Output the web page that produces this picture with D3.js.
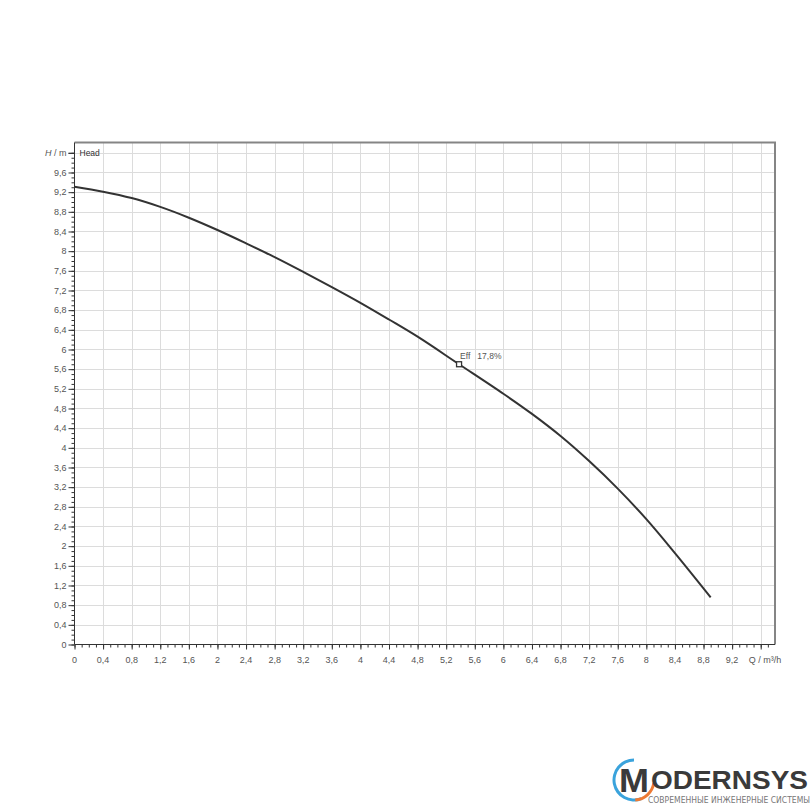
<!DOCTYPE html>
<html>
<head>
<meta charset="utf-8">
<script src="https://cdn.jsdelivr.net/npm/d3@7"></script>
<style>
  body { margin: 0; background: #fff; }
  svg { display: block; }
</style>
</head>
<body>
<div id="chart"></div>
<script>
// pump curve values
const flow = [0, 0.4, 0.8, 1.2, 1.6, 2.0, 2.4, 2.8, 3.2, 3.6, 4.0, 4.4, 4.8, 5.38, 6.0, 6.4, 6.8, 7.2, 7.6, 8.0, 8.4, 8.9];
const head = [9.31, 9.21, 9.08, 8.9, 8.68, 8.43, 8.16, 7.88, 7.58, 7.27, 6.95, 6.61, 6.26, 5.70, 5.10, 4.69, 4.24, 3.73, 3.17, 2.55, 1.86, 0.96];
const effPoint = {q: 5.38, h: 5.70, label: "Eff   17,8%"};
const xTicks = d3.range(0, 9.3, 0.4);
const yTicks = d3.range(0, 9.7, 0.4);
const xUnit = "Q / m³/h";
const seriesName = "Head";

const width = 810, height = 803;
const margin = {top: 142.5, right: 35, bottom: 158.5, left: 74.5};
const xMax = 9.8, yMax = 10.21;

const svg = d3.select("#chart").append("svg")
  .attr("width", width)
  .attr("height", height)
  .attr("font-family", "'Liberation Sans', Arial, sans-serif");

const x = d3.scaleLinear().domain([0, xMax]).range([margin.left, width - margin.right]);
const y = d3.scaleLinear().domain([0, yMax]).range([height - margin.bottom, margin.top]);

const fmt = d => d3.format(".1~f")(d).replace(".", ",");

// grid
const grid = svg.append("g").attr("stroke", "#dcdcdc").attr("stroke-width", 1);
grid.selectAll("line.v")
  .data(d3.range(0.4, 9.7, 0.4))
  .join("line")
    .attr("x1", d => Math.round(x(d)) + 0.5).attr("x2", d => Math.round(x(d)) + 0.5)
    .attr("y1", y(yMax)).attr("y2", y(0));
grid.selectAll("line.h")
  .data(d3.range(0.4, 10.1, 0.4))
  .join("line")
    .attr("y1", d => Math.round(y(d)) + 0.5).attr("y2", d => Math.round(y(d)) + 0.5)
    .attr("x1", x(0)).attr("x2", x(xMax));

// top and right frame
svg.append("path")
  .attr("d", `M${x(0)},${y(yMax)}H${x(xMax)}V${y(0)}`)
  .attr("fill", "none")
  .attr("stroke", "#858585")
  .attr("stroke-width", 2);

// x axis
const xAxis = svg.append("g").attr("transform", `translate(0,${y(0)})`);
xAxis.append("g")
  .call(d3.axisBottom(x).tickValues(d3.range(0, 9.75, 0.1)).tickSize(3).tickFormat(""))
  .call(g => g.select(".domain").remove())
  .call(g => g.selectAll("line").attr("stroke", "#333"));
xAxis.append("g")
  .call(d3.axisBottom(x).tickValues(d3.range(0, 9.7, 0.4)).tickSize(5).tickFormat(""))
  .call(g => g.select(".domain").remove())
  .call(g => g.selectAll("line").attr("stroke", "#333"));
xAxis.append("line")
  .attr("x1", x(0)).attr("x2", x(xMax))
  .attr("stroke", "#333");
xAxis.selectAll("text.lbl")
  .data(xTicks)
  .join("text")
    .attr("class", "lbl")
    .attr("x", d => x(d))
    .attr("y", 18)
    .attr("text-anchor", "middle")
    .attr("font-size", 9)
    .attr("fill", "#555")
    .text(fmt);
xAxis.append("text")
  .attr("x", x(9.6) - 12)
  .attr("y", 18)
  .attr("font-size", 9)
  .attr("fill", "#555")
  .text(xUnit);

// y axis
const yAxis = svg.append("g").attr("transform", `translate(${x(0)},0)`);
yAxis.append("g")
  .call(d3.axisLeft(y).tickValues(d3.range(0, 10.05, 0.1)).tickSize(3).tickFormat(""))
  .call(g => g.select(".domain").remove())
  .call(g => g.selectAll("line").attr("stroke", "#333"));
yAxis.append("g")
  .call(d3.axisLeft(y).tickValues(d3.range(0, 10.1, 0.4).concat([10])).tickSize(6).tickFormat(""))
  .call(g => g.select(".domain").remove())
  .call(g => g.selectAll("line").attr("stroke", "#333"));
yAxis.append("line")
  .attr("y1", y(0)).attr("y2", y(yMax))
  .attr("stroke", "#333");
yAxis.selectAll("text.lbl")
  .data(yTicks)
  .join("text")
    .attr("class", "lbl")
    .attr("x", -8)
    .attr("y", d => y(d))
    .attr("dy", "0.35em")
    .attr("text-anchor", "end")
    .attr("font-size", 9)
    .attr("fill", "#555")
    .text(fmt);
yAxis.append("text")
  .attr("x", -8)
  .attr("y", y(10))
  .attr("dy", "0.35em")
  .attr("text-anchor", "end")
  .attr("font-size", 9)
  .attr("fill", "#555")
  .html("<tspan font-style='italic'>H</tspan> / m");

svg.append("text")
  .attr("x", x(0) + 5)
  .attr("y", y(10))
  .attr("dy", "0.35em")
  .attr("font-size", 8.5)
  .attr("fill", "#333")
  .text(seriesName);

// curve
const pts = flow.map((q, i) => [q, head[i]]);
const line = d3.line()
  .x(d => x(d[0]))
  .y(d => y(d[1]))
  .curve(d3.curveCatmullRom.alpha(0.5));
svg.append("path")
  .datum(pts)
  .attr("d", line)
  .attr("fill", "none")
  .attr("stroke", "#333")
  .attr("stroke-width", 2);

// operating point
svg.append("rect")
  .attr("x", x(effPoint.q) - 2.5)
  .attr("y", y(effPoint.h) - 2.5)
  .attr("width", 5).attr("height", 5)
  .attr("fill", "#fff")
  .attr("stroke", "#333")
  .attr("stroke-width", 1.3);
svg.append("text")
  .attr("x", x(effPoint.q) + 1)
  .attr("y", y(effPoint.h) - 5)
  .attr("font-size", 8.5)
  .attr("fill", "#555")
  .attr("xml:space", "preserve")
  .text(effPoint.label);

// logo
const logo = svg.append("g");
const arc = d3.arc().innerRadius(18.5).outerRadius(21.5);
logo.append("path")
  .attr("transform", "translate(634,780)")
  .attr("d", arc({startAngle: -Math.PI * 1.12, endAngle: 0}))
  .attr("fill", "#3aa3dc");
logo.append("path")
  .attr("transform", "translate(634,780)")
  .attr("d", arc({startAngle: Math.PI * 0.55, endAngle: Math.PI * 0.98}))
  .attr("fill", "#ee7a33");
logo.append("text")
  .attr("x", 619).attr("y", 792)
  .attr("font-weight", "bold")
  .attr("font-size", 33)
  .attr("fill", "#3a3a3a")
  .attr("textLength", 30)
  .attr("lengthAdjust", "spacingAndGlyphs")
  .text("M");
logo.append("text")
  .attr("x", 651).attr("y", 789)
  .attr("font-weight", "bold")
  .attr("font-size", 26)
  .attr("fill", "#3a3a3a")
  .attr("textLength", 157)
  .attr("lengthAdjust", "spacingAndGlyphs")
  .text("ODERNSYS");
logo.append("text")
  .attr("x", 648).attr("y", 802.5)
  .attr("font-family", "'DejaVu Sans Condensed', 'DejaVu Sans', sans-serif")
  .attr("font-size", 8.5)
  .attr("fill", "#777")
  .attr("textLength", 162)
  .attr("lengthAdjust", "spacing")
  .text("СОВРЕМЕННЫЕ ИНЖЕНЕРНЫЕ СИСТЕМЫ");
</script>
</body>
</html>
